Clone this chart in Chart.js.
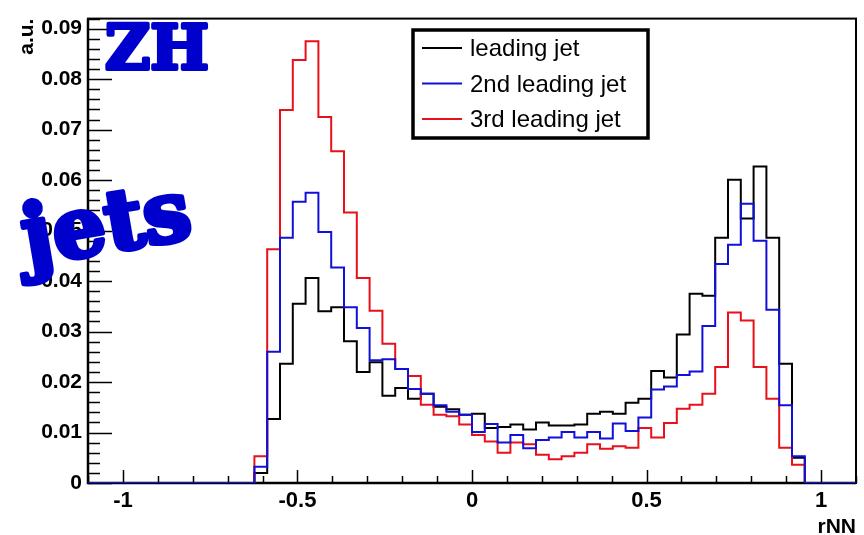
<!DOCTYPE html>
<html>
<head>
<meta charset="utf-8">
<script src="https://cdn.jsdelivr.net/npm/chart.js@4.4.1/dist/chart.umd.min.js"></script>
<style>
  html, body { margin: 0; padding: 0; background: #fff; }
  canvas { display: block; }
</style>
</head>
<body>
<canvas id="rnnChart" width="864" height="535"></canvas>
<script>
// histogram binning: 60 bins from -1.1 to 1.1
const xMin = -1.1;
const xMax = 1.1;
const nBins = 60;

const seriesNames = ["leading jet", "2nd leading jet", "3rd leading jet"];

const leadingJet = [
  0, 0, 0, 0, 0, 0, 0, 0, 0, 0, 0, 0, 0,
  0.0020, 0.0127, 0.0236, 0.0355, 0.0406, 0.0340, 0.0348, 0.0281, 0.0220, 0.0239,
  0.0173, 0.0188, 0.0167, 0.0177, 0.0151, 0.0146, 0.0135, 0.0137, 0.0109, 0.0111,
  0.0116, 0.0106, 0.0120, 0.0114, 0.0114, 0.0116, 0.0137, 0.0141, 0.0137, 0.0159,
  0.0167, 0.0222, 0.0209, 0.0294, 0.0375, 0.0371, 0.0486, 0.0601, 0.0524, 0.0627,
  0.0486, 0.0236, 0.0050, 0, 0, 0, 0
];

const secondJet = [
  0, 0, 0, 0, 0, 0, 0, 0, 0, 0, 0, 0, 0,
  0.0032, 0.0260, 0.0486, 0.0557, 0.0575, 0.0497, 0.0427, 0.0348, 0.0307, 0.0243,
  0.0245, 0.0226, 0.0186, 0.0177, 0.0154, 0.0141, 0.0135, 0.0101, 0.0117, 0.0080,
  0.0095, 0.0069, 0.0085, 0.0090, 0.0101, 0.0090, 0.0101, 0.0088, 0.0118, 0.0103,
  0.0130, 0.0185, 0.0191, 0.0214, 0.0221, 0.0311, 0.0434, 0.0472, 0.0553, 0.0480,
  0.0343, 0.0154, 0.0053, 0, 0, 0, 0
];

const thirdJet = [
  0, 0, 0, 0, 0, 0, 0, 0, 0, 0, 0, 0, 0,
  0.0053, 0.0463, 0.0739, 0.0838, 0.0875, 0.0725, 0.0657, 0.0536, 0.0406, 0.0341,
  0.0276, 0.0226, 0.0212, 0.0155, 0.0135, 0.0132, 0.0116, 0.0095, 0.0082, 0.0060,
  0.0080, 0.0077, 0.0056, 0.0047, 0.0053, 0.0060, 0.0077, 0.0068, 0.0073, 0.0070,
  0.0109, 0.0090, 0.0119, 0.0147, 0.0155, 0.0177, 0.0230, 0.0338, 0.0322, 0.0230,
  0.0167, 0.0070, 0.0036, 0, 0, 0, 0
];

const xTickValues = [-1, -0.5, 0, 0.5, 1];
const xTickLabels = ["-1", "-0.5", "0", "0.5", "1"];
const yTickValues = [0, 0.01, 0.02, 0.03, 0.04, 0.05, 0.06, 0.07, 0.08, 0.09];
const yTickLabels = ["0", "0.01", "0.02", "0.03", "0.04", "0.05", "0.06", "0.07", "0.08", "0.09"];
const yMax = 0.092;

const BLUE = "#1010d8";
const RED = "#e8101a";
const LABEL_FONT = "bold 21px 'Liberation Sans', Arial, sans-serif";

// one point per lower bin edge, plus the upper edge of the last bin
function toSteps(values) {
    let w = (xMax - xMin) / nBins;
    let pts = values.map((v, i) => ({ x: xMin + i * w, y: v }));
    pts.push({ x: xMax, y: values[values.length - 1] });
    return pts;
}

const rootFrame = {
    id: 'rootFrame',
    // frame and inward ticks go under the histograms, like ROOT
    beforeDatasetsDraw(chart) {
        let ctx = chart.ctx;
        let a = chart.chartArea;
        let xs = chart.scales.x;
        let ys = chart.scales.y;
        ctx.save();
        ctx.strokeStyle = "#000";

        ctx.lineWidth = 1.5;
        ctx.beginPath();
        for (let i = 0; i <= 22; i++) {
            let v = xMin + i * 0.1;
            let px = Math.round(xs.getPixelForValue(v)) + 0.5;
            let major = xTickValues.some(t => Math.abs(t - v) < 1e-6);
            ctx.moveTo(px, a.bottom);
            ctx.lineTo(px, a.bottom - (major ? 13 : 7));
        }
        for (let i = 0; i <= 46; i++) {
            let v = i * 0.002;
            if (v > yMax) break;
            let py = Math.round(ys.getPixelForValue(v)) + 0.5;
            let major = i % 5 === 0;
            ctx.moveTo(a.left, py);
            ctx.lineTo(a.left + (major ? 24 : 12), py);
        }
        ctx.stroke();

        ctx.lineWidth = 2;
        ctx.strokeRect(a.left, a.top, a.right - a.left, a.bottom - a.top);
        ctx.lineWidth = 2.5;
        ctx.beginPath();
        ctx.moveTo(a.left, a.top);
        ctx.lineTo(a.left, a.bottom);
        ctx.lineTo(a.right, a.bottom);
        ctx.stroke();
        ctx.restore();
    },
    afterDraw(chart) {
        let ctx = chart.ctx;
        let a = chart.chartArea;
        ctx.save();

        // axis titles
        ctx.fillStyle = "#000";
        ctx.font = LABEL_FONT;
        ctx.textAlign = "right";
        ctx.textBaseline = "alphabetic";
        ctx.fillText("rNN", a.right, 533);
        ctx.save();
        ctx.translate(33, a.top);
        ctx.rotate(-Math.PI / 2);
        ctx.fillText("a.u.", 0, 0);
        ctx.restore();

        // legend
        let lx = 413, ly = 30, lw = 235, lh = 108;
        ctx.fillStyle = "#fff";
        ctx.fillRect(lx, ly, lw, lh);
        ctx.strokeStyle = "#000";
        ctx.lineWidth = 3.5;
        ctx.strokeRect(lx, ly, lw, lh);
        ctx.font = "24px 'Liberation Sans', Arial, sans-serif";
        ctx.textAlign = "left";
        chart.data.datasets.forEach((ds, i) => {
            let y = ly + 18 + i * 35.5;
            ctx.strokeStyle = ds.borderColor;
            ctx.lineWidth = 2;
            ctx.beginPath();
            ctx.moveTo(422, y);
            ctx.lineTo(462, y);
            ctx.stroke();
            ctx.fillStyle = "#000";
            ctx.fillText(ds.label, 470, y + 8);
        });

        // ZH / jets stamps
        ctx.fillStyle = "#0000cc";
        ctx.strokeStyle = "#0000cc";
        ctx.lineJoin = "round";
        ctx.lineWidth = 4;
        ctx.font = "bold 62px 'DejaVu Serif', serif";
        ctx.textAlign = "left";
        ctx.fillText("ZH", 105, 69);
        ctx.strokeText("ZH", 105, 69);
        ctx.save();
        ctx.translate(27, 266);
        ctx.rotate(-0.17);
        ctx.font = "bold 84px 'DejaVu Serif', serif";
        ctx.lineWidth = 5;
        ctx.fillText("jets", 0, 0);
        ctx.strokeText("jets", 0, 0);
        ctx.restore();

        ctx.restore();
    }
};

let config = {
    type: "line",
    data: {
        datasets: [
            {
                label: seriesNames[0],
                data: toSteps(leadingJet),
                borderColor: "#000",
                borderWidth: 2,
                stepped: "before",
                pointRadius: 0,
                fill: false,
                order: 2,
            },
            {
                label: seriesNames[1],
                data: toSteps(secondJet),
                borderColor: BLUE,
                borderWidth: 2,
                stepped: "before",
                pointRadius: 0,
                fill: false,
                order: 0,
            },
            {
                label: seriesNames[2],
                data: toSteps(thirdJet),
                borderColor: RED,
                borderWidth: 2,
                stepped: "before",
                pointRadius: 0,
                fill: false,
                order: 1,
            },
        ],
    },
    options: {
        responsive: false,
        animation: false,
        devicePixelRatio: 1,
        layout: {
            padding: { left: 0, right: 8, top: 5, bottom: 0 },
        },
        plugins: {
            legend: { display: false },
            tooltip: { enabled: false },
        },
        scales: {
            x: {
                type: "linear",
                min: xMin,
                max: xMax,
                afterBuildTicks: s => { s.ticks = xTickValues.map(v => ({ value: v })); },
                afterFit: s => { s.height = 52; },
                grid: { display: false, drawTicks: false },
                border: { display: false },
                ticks: {
                    autoSkip: false,
                    maxRotation: 0,
                    padding: 5,
                    color: "#000",
                    font: { family: "'Liberation Sans', Arial, sans-serif", size: 22, weight: "bold" },
                    callback: (v, i) => xTickLabels[i],
                },
            },
            y: {
                type: "linear",
                min: 0,
                max: yMax,
                afterBuildTicks: s => { s.ticks = yTickValues.map(v => ({ value: v })); },
                afterFit: s => { s.width = 88; },
                grid: { display: false, drawTicks: false },
                border: { display: false },
                ticks: {
                    autoSkip: false,
                    padding: 6,
                    color: "#000",
                    font: { family: "'Liberation Sans', Arial, sans-serif", size: 21, weight: "bold" },
                    callback: (v, i) => yTickLabels[i],
                },
            },
        },
    },
    plugins: [rootFrame],
};

new Chart(document.getElementById("rnnChart").getContext("2d"), config);
</script>
</body>
</html>
